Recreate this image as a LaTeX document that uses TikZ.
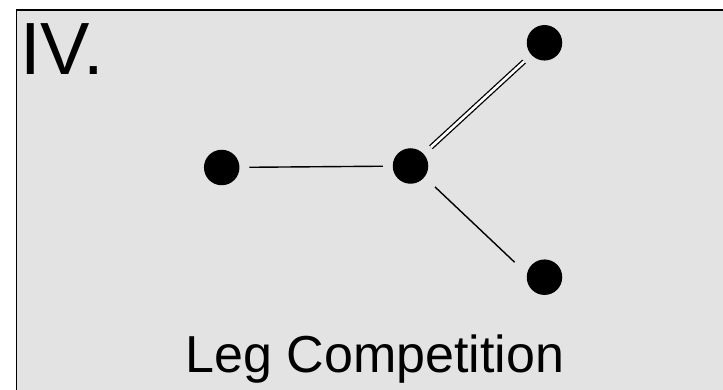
\documentclass[tikz,border=0pt]{standalone}
\usepackage{fontspec}
\setmainfont{Liberation Sans}
\usepackage{tikz}
\usepackage{xcolor}
\definecolor{panelgray}{HTML}{E3E3E3}

\begin{document}
\begin{tikzpicture}[x=1pt,y=-1pt,line cap=butt,
  dot/.style={circle,fill=black,inner sep=0pt,minimum size=35.5pt,outer sep=10pt},
  bond/.style={line width=1.4pt},
  dbond/.style={double,double distance=2.6pt,line width=1.3pt}]
\useasboundingbox (0,0) rectangle (723,390);
% panel, cut off at the right and bottom
\fill[panelgray] (16.5,10) rectangle (723,390);
\draw[line width=1.6pt] (16.5,390) -- (16.5,10) -- (723,10);
\node[anchor=base west,inner sep=0pt,font=\fontsize{74}{74}\selectfont] (num) at (20,75) {IV.};
% the four legs
\node[dot] (leg) at (221.7,167.5) {};
\node[dot] (hub) at (410.5,166) {};
\node[dot] (upper) at (544.5,42.8) {};
\node[dot] (lower) at (544.5,277.2) {};
\draw[bond] (leg) -- (hub);
\draw[dbond] (hub) -- (upper);
\draw[bond,shorten <=4.5pt,shorten >=6pt] (hub.-40) -- (lower.157);
\node[anchor=base,inner sep=0pt,font=\fontsize{52}{52}\selectfont] (title) at (375,372.3) {Leg Competition};
\end{tikzpicture}
\end{document}
